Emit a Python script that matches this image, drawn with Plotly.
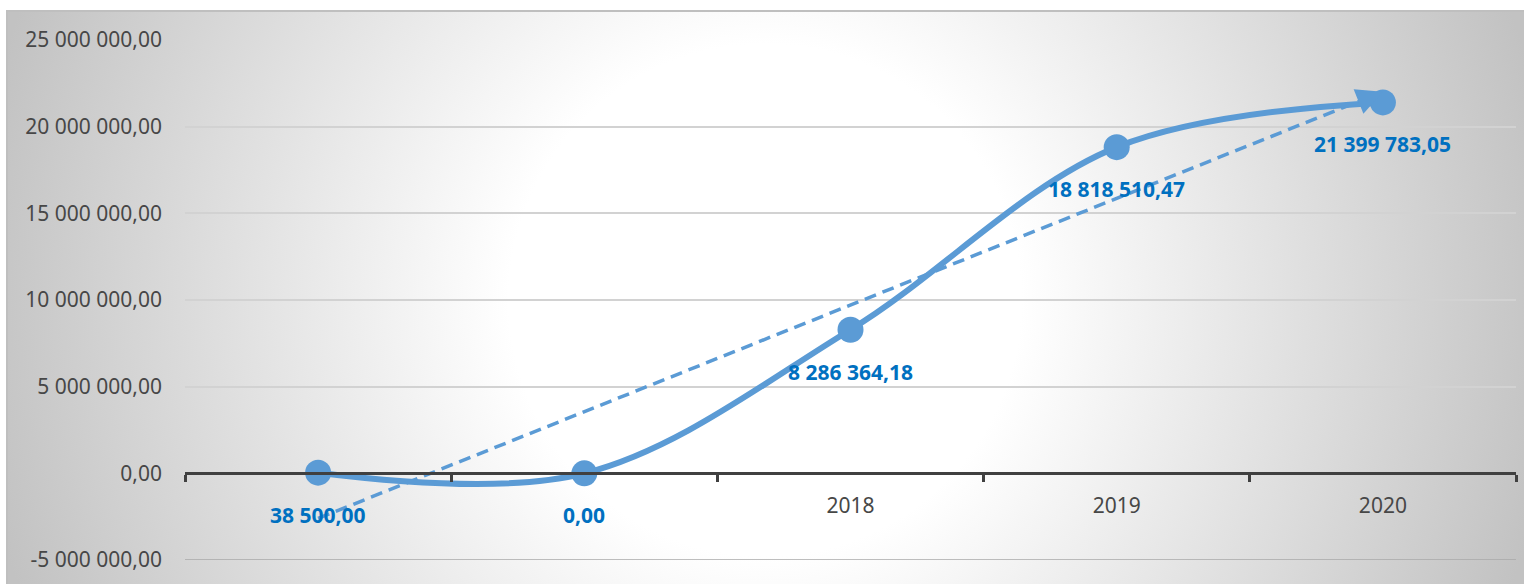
import numpy as np
import urllib.parse
import plotly.graph_objects as go

# ---- data ----
categories = ["", "", "2018", "2019", "2020"]
values = [38500.00, 0.00, 8286364.18, 18818510.47, 21399783.05]
y_tickvals = [-5000000, 0, 5000000, 10000000, 15000000, 20000000, 25000000]
y_ticktext = ["-5 000 000,00", "0,00", "5 000 000,00", "10 000 000,00",
              "15 000 000,00", "20 000 000,00", "25 000 000,00"]
Y_MIN, Y_MAX = -5000000, 25000000

# ---- style ----
W, H = 1524, 584
ML, MR, MT, MB = 185, 8, 40, 24
LINE_COLOR = "#5B9BD5"
LABEL_COLOR = "#0070C0"
AXIS_TEXT = "#474747"
FONT = "Noto Sans"
FS = 21


def fmt(v):
    return f"{v:,.2f}".replace(",", " ").replace(".", ",")


pos = list(range(len(categories)))
boundaries = [p - 0.5 for p in pos] + [pos[-1] + 0.5]

# linear trendline (least squares) over category index
slope, intercept = np.polyfit(np.arange(1, len(values) + 1), values, 1)
trend = [slope * (i + 1) + intercept for i in pos]

fig = go.Figure()

fig.add_trace(go.Scatter(
    x=pos, y=trend, mode="lines",
    line=dict(color=LINE_COLOR, width=3.5, dash="12px,7px"),
    hoverinfo="skip", showlegend=False,
))
fig.add_trace(go.Scatter(
    x=pos, y=values, mode="lines+markers",
    line=dict(color=LINE_COLOR, width=6, shape="spline", smoothing=1.0),
    marker=dict(size=26, color=LINE_COLOR),
    showlegend=False,
))

annotations = []
for p, v in zip(pos, values):
    annotations.append(dict(
        x=p, y=v, xref="x", yref="y", text=fmt(v), showarrow=False,
        yshift=-42, font=dict(family=FONT, size=FS, color=LABEL_COLOR, weight="bold"),
    ))
# arrow head at the end of the trendline
ax_pos = pos[-1] - 0.1
annotations.append(dict(
    x=pos[-1], y=trend[-1], xref="x", yref="y",
    ax=ax_pos, ay=slope * (ax_pos + 1) + intercept, axref="x", ayref="y",
    showarrow=True, arrowhead=2, arrowsize=1.5, arrowwidth=3.5,
    arrowcolor=LINE_COLOR, standoff=0, text="",
))

# gradient background as SVG image
bx0, by0 = 6, 10
bw, bh = W - bx0, H - by0
svg = (
    f"<svg xmlns='http://www.w3.org/2000/svg' width='{bw}' height='{bh}' viewBox='0 0 {bw} {bh}'>"
    "<defs><radialGradient id='g' gradientUnits='userSpaceOnUse' "
    f"cx='{765 - bx0}' cy='{300 - by0}' r='800'>"
    "<stop offset='0.32' stop-color='#ffffff'/>"
    "<stop offset='1' stop-color='#c2c2c2'/>"
    "</radialGradient></defs>"
    f"<rect x='0' y='0' width='{bw}' height='{bh}' fill='url(#g)'/>"
    f"<line x1='0' y1='1' x2='{bw}' y2='1' stroke='#bfbfbf' stroke-width='2'/>"
    f"<line x1='1' y1='0' x2='1' y2='{bh}' stroke='#bfbfbf' stroke-width='2'/>"
    "</svg>"
)
svg_uri = "data:image/svg+xml;charset=utf-8," + urllib.parse.quote(svg)
pw = W - ML - MR
ph = H - MT - MB

fig.update_layout(
    width=W, height=H,
    margin=dict(l=ML, r=MR, t=MT, b=MB, pad=0),
    paper_bgcolor="white",
    plot_bgcolor="rgba(0,0,0,0)",
    annotations=annotations,
    images=[dict(
        source=svg_uri, xref="paper", yref="paper",
        x=(bx0 - ML) / pw, y=1 + (MT - by0) / ph,
        sizex=bw / pw, sizey=bh / ph,
        xanchor="left", yanchor="top", sizing="stretch", layer="below",
    )],
    shapes=[dict(
        type="line", xref="paper", yref="y", x0=0, x1=1, y0=Y_MIN, y1=Y_MIN,
        line=dict(color="#a8a8a8", width=1.5), layer="below",
    )],
    xaxis=dict(
        range=[boundaries[0], boundaries[-1]],
        tickvals=pos, ticktext=categories, ticks="",
        minor=dict(tickvals=boundaries, ticks="outside", ticklen=7,
                   tickwidth=3, tickcolor="#404040", showgrid=False),
        showline=True, linecolor="#404040", linewidth=3,
        showgrid=False, zeroline=False,
        anchor="free", position=(0 - Y_MIN) / (Y_MAX - Y_MIN),
        ticklabelstandoff=12,
        tickfont=dict(family=FONT, size=FS, color=AXIS_TEXT),
        fixedrange=True,
    ),
    yaxis=dict(
        range=[Y_MIN, Y_MAX],
        tickvals=y_tickvals, ticktext=y_ticktext,
        showgrid=True, gridcolor="#d2d2d2", gridwidth=1.5,
        zeroline=False, showline=False, ticks="",
        ticklabelstandoff=22,
        tickfont=dict(family=FONT, size=FS, color=AXIS_TEXT),
        fixedrange=True,
    ),
)

fig.write_html(
    "out.html",
    config=dict(displayModeBar=False),
    post_script="document.body.style.margin='0';document.body.style.overflow='hidden';",
)
